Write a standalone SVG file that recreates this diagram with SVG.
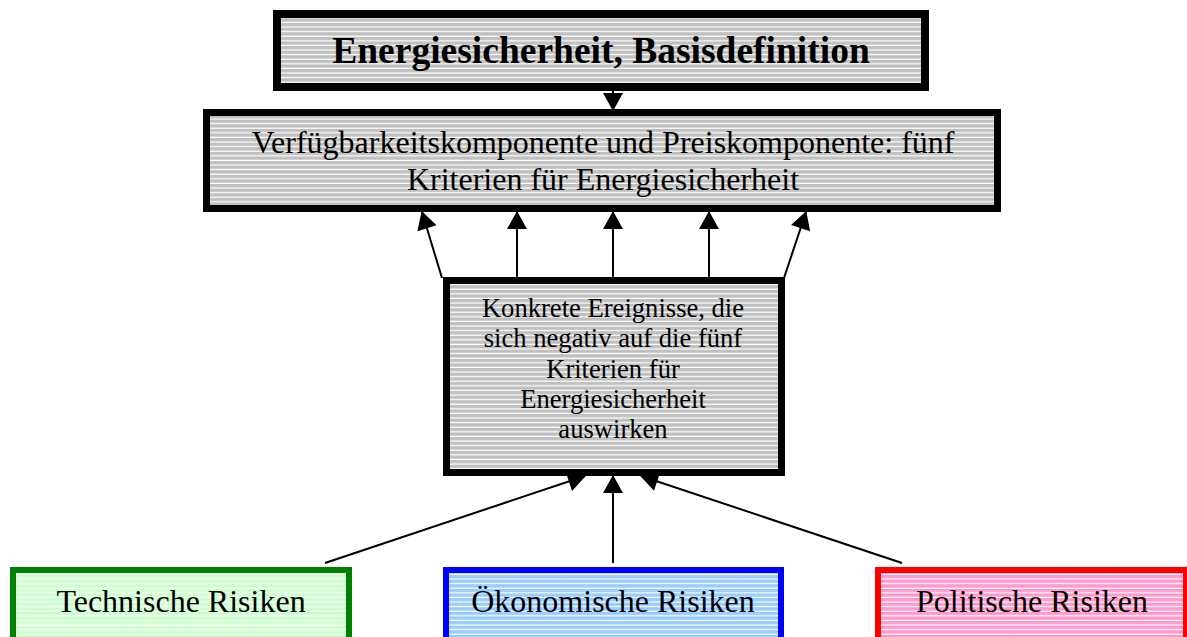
<svg xmlns="http://www.w3.org/2000/svg" width="1187" height="637" viewBox="0 0 1187 637">
<defs>
<pattern id="pGray" patternUnits="userSpaceOnUse" width="8" height="4.6"><rect width="8" height="4.6" fill="#c0c0c0"/><rect y="3.4" width="8" height="1.2" fill="#ffffff"/></pattern>
<pattern id="pGreen" patternUnits="userSpaceOnUse" width="8" height="4.6"><rect width="8" height="4.6" fill="#ccffcc"/><rect y="3.4" width="8" height="1.2" fill="#ffffff"/></pattern>
<pattern id="pBlue" patternUnits="userSpaceOnUse" width="8" height="4.6"><rect width="8" height="4.6" fill="#99ccff"/><rect y="3.4" width="8" height="1.2" fill="#ffffff"/></pattern>
<pattern id="pPink" patternUnits="userSpaceOnUse" width="8" height="4.6"><rect width="8" height="4.6" fill="#ff99cc"/><rect y="3.4" width="8" height="1.2" fill="#ffffff"/></pattern>
<marker id="arr" markerUnits="userSpaceOnUse" markerWidth="20" markerHeight="20" viewBox="0 0 18 20" refX="17" refY="10" orient="auto"><path d="M0,0 L18,10 L0,20 z" fill="#000"/></marker>
</defs>
<style>
.t{font-family:"Liberation Serif","Times New Roman",serif;fill:#000;text-anchor:middle}
.c{stroke:#000;stroke-width:2;fill:none;marker-end:url(#arr)}
</style>
<g id="connectors">
<line class="c" x1="613" y1="91" x2="613" y2="110"/>
<line class="c" x1="442" y1="278" x2="422" y2="212"/>
<line class="c" x1="517" y1="278" x2="517" y2="212"/>
<line class="c" x1="613" y1="278" x2="613" y2="212"/>
<line class="c" x1="709" y1="278" x2="709" y2="212"/>
<line class="c" x1="784" y1="278" x2="806" y2="212"/>
<line class="c" x1="325" y1="563" x2="585" y2="476"/>
<line class="c" x1="613" y1="563" x2="613" y2="476"/>
<line class="c" x1="902" y1="563" x2="641" y2="476"/>
</g>
<g id="basis">
<rect x="277" y="14" width="648" height="73" fill="url(#pGray)" stroke="#000" stroke-width="8"/>
<text class="t" x="601" y="63" font-size="37.5" font-weight="bold">Energiesicherheit, Basisdefinition</text>
</g>
<g id="kriterien">
<rect x="206.5" y="112.5" width="791" height="96" fill="url(#pGray)" stroke="#000" stroke-width="7"/>
<text class="t" x="603" y="153" font-size="32">Verfügbarkeitskomponente und Preiskomponente: fünf</text>
<text class="t" x="603" y="190" font-size="32">Kriterien für Energiesicherheit</text>
</g>
<g id="ereignisse">
<rect x="446.5" y="280.5" width="335" height="192" fill="url(#pGray)" stroke="#000" stroke-width="7"/>
<text class="t" x="613" y="317" font-size="26.6">Konkrete Ereignisse, die</text>
<text class="t" x="613" y="347" font-size="26.6">sich negativ auf die fünf</text>
<text class="t" x="613" y="378" font-size="26.6">Kriterien für</text>
<text class="t" x="613" y="408" font-size="26.6">Energiesicherheit</text>
<text class="t" x="613" y="438" font-size="26.6">auswirken</text>
</g>
<g id="technisch">
<rect x="13" y="570" width="336" height="80" fill="url(#pGreen)" stroke="#008000" stroke-width="6"/>
<text class="t" x="181" y="612" font-size="32">Technische Risiken</text>
</g>
<g id="oekonomisch">
<rect x="446" y="570" width="335" height="80" fill="url(#pBlue)" stroke="#0000ff" stroke-width="6"/>
<text class="t" x="613" y="612" font-size="32">Ökonomische Risiken</text>
</g>
<g id="politisch">
<rect x="878" y="570" width="308" height="80" fill="url(#pPink)" stroke="#ff0000" stroke-width="6"/>
<text class="t" x="1032" y="612" font-size="32">Politische Risiken</text>
</g>
</svg>
